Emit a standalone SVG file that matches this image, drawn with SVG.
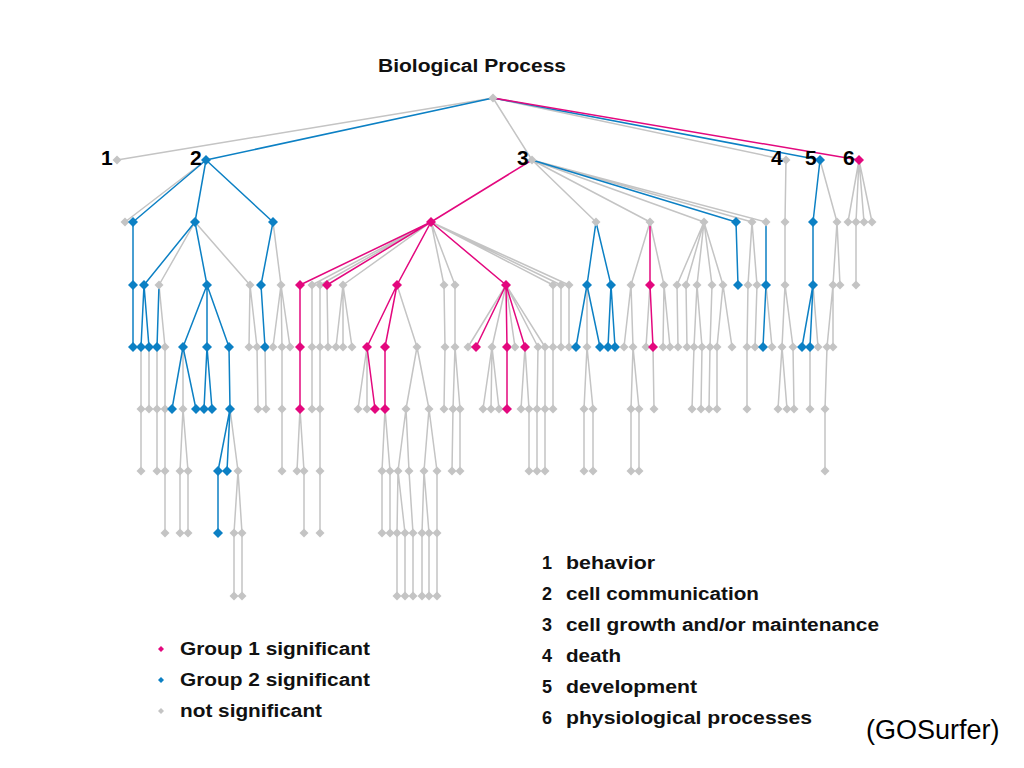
<svg xmlns="http://www.w3.org/2000/svg" xmlns:xlink="http://www.w3.org/1999/xlink" width="1024" height="768" viewBox="0 0 1024 768">
<style>
.t{font-family:"Liberation Sans","DejaVu Sans",Arial,sans-serif;font-weight:bold;font-size:18px;fill:#111}
.num{font-family:"Liberation Sans","DejaVu Sans",Arial,sans-serif;font-weight:bold;font-size:21px;fill:#000}
.src{font-family:"Liberation Sans",Arial,sans-serif;font-size:27px;fill:#000}
.eg{fill:none;stroke:#c4c4c4;stroke-width:1.5}
.eb{fill:none;stroke:#0c80c4;stroke-width:1.5}
.ep{fill:none;stroke:#e3087e;stroke-width:1.5}
</style>
<defs>
<path id="g" d="M0-4.5L4.5 0L0 4.5L-4.5 0Z" fill="#c4c4c4"/>
<path id="b" d="M0-5L5 0L0 5L-5 0Z" fill="#0c80c4"/>
<path id="p" d="M0-5L5 0L0 5L-5 0Z" fill="#e3087e"/>
<path id="sg" d="M0-3L3 0L0 3L-3 0Z" fill="#c4c4c4"/>
<path id="sb" d="M0-3L3 0L0 3L-3 0Z" fill="#0c80c4"/>
<path id="sp" d="M0-3L3 0L0 3L-3 0Z" fill="#e3087e"/>
</defs>
<rect width="1024" height="768" fill="#fff"/>
<text class="t" x="378" y="72" textLength="188" lengthAdjust="spacingAndGlyphs">Biological Process</text>
<g id="connectors">
<path class="eg" d="M493 98L117 160M493 98L532 160M493 98L786 160
M206 160L125 222M532 160L596 222M532 160L650 222M532 160L704 222M532 160L752 222M532 160L766 222M786 160L785 222M820 160L837 222M859 160L848 222M859 160L856 222M859 160L864 222M859 160L872 222
M195 222L159 285M195 222L250 285M273 222L281 285M431 222L312 285M431 222L320 285M431 222L343 285M431 222L444 285M431 222L455 285M431 222L553 285M431 222L561 285M431 222L569 285M650 222L631 285M650 222L664 285M704 222L677 285M704 222L686 285M704 222L697 285M704 222L712 285M704 222L723 285M752 222L748 285M752 222L757 285M785 222L785 285M837 222L833 285M837 222L840 285M856 222L856 285
M159 285L165 347M250 285L249 347M250 285L257 347M281 285L273 347M281 285L282 347M281 285L290 347M312 285L312 347M320 285L320 347M327 285L328 347M343 285L336 347M343 285L343 347M343 285L352 347M397 285L417 347M444 285L445 347M455 285L455 347M506 285L468 347M506 285L492 347M506 285L515 347M506 285L538 347M506 285L545 347M553 285L553 347M561 285L561 347M569 285L569 347M587 285L587 347M631 285L624 347M631 285L633 347M650 285L646 347M664 285L663 347M664 285L670 347M677 285L678 347M686 285L687 347M697 285L694 347M697 285L702 347M712 285L710 347M723 285L717 347M723 285L732 347M748 285L747 347M757 285L755 347M766 285L772 347M785 285L782 347M785 285L793 347M813 285L818 347M833 285L827 347M833 285L833 347
M141 347L141 409M149 347L149 409M157 347L157 409M165 347L165 409M183 347L183 409M257 347L258 409M265 347L266 409M282 347L282 409M312 347L312 409M320 347L320 409M367 347L358 409M367 347L367 409M417 347L406 409M417 347L429 409M445 347L444 409M455 347L453 409M455 347L460 409M492 347L483 409M492 347L491 409M492 347L499 409M525 347L521 409M525 347L529 409M538 347L537 409M545 347L545 409M553 347L553 409M587 347L584 409M587 347L593 409M633 347L631 409M633 347L639 409M653 347L654 409M694 347L692 409M702 347L701 409M710 347L709 409M717 347L717 409M747 347L747 409M782 347L778 409M782 347L787 409M793 347L794 409M810 347L810 409M827 347L825 409
M141 409L141 471M157 409L157 471M165 409L165 471M183 409L180 471M183 409L188 471M230 409L238 471M282 409L282 471M300 409L297 471M300 409L304 471M320 409L320 471M385 409L382 471M385 409L390 471M406 409L398 471M406 409L409 471M429 409L424 471M429 409L437 471M453 409L452 471M460 409L460 471M529 409L529 471M537 409L537 471M545 409L545 471M584 409L584 471M593 409L593 471M631 409L631 471M639 409L639 471M825 409L825 471
M165 471L165 533M180 471L180 533M188 471L188 533M238 471L234 533M238 471L242 533M304 471L304 533M320 471L320 533M382 471L382 533M390 471L390 533M398 471L397 533M398 471L405 533M409 471L413 533M424 471L422 533M424 471L429 533M437 471L437 533
M234 533L234 596M242 533L242 596M397 533L397 596M405 533L405 596M413 533L413 596M422 533L422 596M429 533L429 596M437 533L437 596"/>
<path class="eb" d="M493 98L206 160M493 98L820 160M206 160L133 222M206 160L195 222M206 160L273 222M532 160L736 222M820 160L813 222
M133 222L133 285M195 222L144 285M195 222L207 285M273 222L261 285M596 222L587 285M596 222L611 285M736 222L738 285M766 222L766 285M813 222L813 285
M133 285L133 347M144 285L141 347M144 285L149 347M159 285L157 347M207 285L183 347M207 285L207 347M207 285L229 347M261 285L265 347M587 285L576 347M587 285L600 347M611 285L608 347M611 285L615 347M766 285L763 347M813 285L802 347M813 285L810 347
M183 347L172 409M183 347L196 409M207 347L204 409M207 347L212 409M229 347L230 409
M230 409L218 471M230 409L227 471M218 471L218 533"/>
<path class="ep" d="M493 98L859 160M532 160L431 222
M431 222L300 285M431 222L327 285M431 222L397 285M431 222L506 285M650 222L650 285
M300 285L300 347M397 285L367 347M397 285L385 347M506 285L476 347M506 285L507 347M506 285L525 347M650 285L653 347
M300 347L300 409M367 347L375 409M385 347L385 409M507 347L507 409"/>
</g>
<g id="nodes">
<g id="root"><use href="#g" x="493" y="98"/></g>
<g id="n1"><use href="#g" x="117" y="160"/></g>
<g id="n2"><use href="#b" x="206" y="160"/></g>
<g id="n3"><use href="#g" x="532" y="160"/></g>
<g id="n4"><use href="#g" x="786" y="160"/></g>
<g id="n5"><use href="#b" x="820" y="160"/></g>
<g id="n6"><use href="#p" x="859" y="160"/></g>
<g id="a125"><use href="#g" x="125" y="222"/></g>
<g id="a133"><use href="#b" x="133" y="222"/></g>
<g id="a195"><use href="#b" x="195" y="222"/></g>
<g id="a273"><use href="#b" x="273" y="222"/></g>
<g id="a431"><use href="#p" x="431" y="222"/></g>
<g id="a596"><use href="#g" x="596" y="222"/></g>
<g id="a650"><use href="#g" x="650" y="222"/></g>
<g id="a704"><use href="#g" x="704" y="222"/></g>
<g id="a736"><use href="#b" x="736" y="222"/></g>
<g id="a752"><use href="#g" x="752" y="222"/></g>
<g id="a766"><use href="#g" x="766" y="222"/></g>
<g id="a785"><use href="#g" x="785" y="222"/></g>
<g id="a813"><use href="#b" x="813" y="222"/></g>
<g id="a837"><use href="#g" x="837" y="222"/></g>
<g id="a848"><use href="#g" x="848" y="222"/></g>
<g id="a856"><use href="#g" x="856" y="222"/></g>
<g id="a864"><use href="#g" x="864" y="222"/></g>
<g id="a872"><use href="#g" x="872" y="222"/></g>
<g id="b133"><use href="#b" x="133" y="285"/></g>
<g id="b144"><use href="#b" x="144" y="285"/></g>
<g id="b159"><use href="#g" x="159" y="285"/></g>
<g id="b207"><use href="#b" x="207" y="285"/></g>
<g id="b250"><use href="#g" x="250" y="285"/></g>
<g id="b261"><use href="#b" x="261" y="285"/></g>
<g id="b281"><use href="#g" x="281" y="285"/></g>
<g id="b300"><use href="#p" x="300" y="285"/></g>
<g id="b312"><use href="#g" x="312" y="285"/></g>
<g id="b320"><use href="#g" x="320" y="285"/></g>
<g id="b327"><use href="#p" x="327" y="285"/></g>
<g id="b343"><use href="#g" x="343" y="285"/></g>
<g id="b397"><use href="#p" x="397" y="285"/></g>
<g id="b444"><use href="#g" x="444" y="285"/></g>
<g id="b455"><use href="#g" x="455" y="285"/></g>
<g id="b506"><use href="#p" x="506" y="285"/></g>
<g id="b553"><use href="#g" x="553" y="285"/></g>
<g id="b561"><use href="#g" x="561" y="285"/></g>
<g id="b569"><use href="#g" x="569" y="285"/></g>
<g id="b587"><use href="#b" x="587" y="285"/></g>
<g id="b611"><use href="#b" x="611" y="285"/></g>
<g id="b631"><use href="#g" x="631" y="285"/></g>
<g id="b650"><use href="#p" x="650" y="285"/></g>
<g id="b664"><use href="#g" x="664" y="285"/></g>
<g id="b677"><use href="#g" x="677" y="285"/></g>
<g id="b686"><use href="#g" x="686" y="285"/></g>
<g id="b697"><use href="#g" x="697" y="285"/></g>
<g id="b712"><use href="#g" x="712" y="285"/></g>
<g id="b723"><use href="#g" x="723" y="285"/></g>
<g id="b738"><use href="#b" x="738" y="285"/></g>
<g id="b748"><use href="#g" x="748" y="285"/></g>
<g id="b757"><use href="#g" x="757" y="285"/></g>
<g id="b766"><use href="#b" x="766" y="285"/></g>
<g id="b785"><use href="#g" x="785" y="285"/></g>
<g id="b813"><use href="#b" x="813" y="285"/></g>
<g id="b833"><use href="#g" x="833" y="285"/></g>
<g id="b840"><use href="#g" x="840" y="285"/></g>
<g id="b856"><use href="#g" x="856" y="285"/></g>
<g id="c133"><use href="#b" x="133" y="347"/></g>
<g id="c141"><use href="#b" x="141" y="347"/></g>
<g id="c149"><use href="#b" x="149" y="347"/></g>
<g id="c157"><use href="#b" x="157" y="347"/></g>
<g id="c165"><use href="#g" x="165" y="347"/></g>
<g id="c183"><use href="#b" x="183" y="347"/></g>
<g id="c207"><use href="#b" x="207" y="347"/></g>
<g id="c229"><use href="#b" x="229" y="347"/></g>
<g id="c249"><use href="#g" x="249" y="347"/></g>
<g id="c257"><use href="#g" x="257" y="347"/></g>
<g id="c265"><use href="#b" x="265" y="347"/></g>
<g id="c273"><use href="#g" x="273" y="347"/></g>
<g id="c282"><use href="#g" x="282" y="347"/></g>
<g id="c290"><use href="#g" x="290" y="347"/></g>
<g id="c300"><use href="#p" x="300" y="347"/></g>
<g id="c312"><use href="#g" x="312" y="347"/></g>
<g id="c320"><use href="#g" x="320" y="347"/></g>
<g id="c328"><use href="#g" x="328" y="347"/></g>
<g id="c336"><use href="#g" x="336" y="347"/></g>
<g id="c343"><use href="#g" x="343" y="347"/></g>
<g id="c352"><use href="#g" x="352" y="347"/></g>
<g id="c367"><use href="#p" x="367" y="347"/></g>
<g id="c385"><use href="#p" x="385" y="347"/></g>
<g id="c417"><use href="#g" x="417" y="347"/></g>
<g id="c445"><use href="#g" x="445" y="347"/></g>
<g id="c455"><use href="#g" x="455" y="347"/></g>
<g id="c468"><use href="#g" x="468" y="347"/></g>
<g id="c476"><use href="#p" x="476" y="347"/></g>
<g id="c492"><use href="#g" x="492" y="347"/></g>
<g id="c507"><use href="#p" x="507" y="347"/></g>
<g id="c515"><use href="#g" x="515" y="347"/></g>
<g id="c525"><use href="#p" x="525" y="347"/></g>
<g id="c538"><use href="#g" x="538" y="347"/></g>
<g id="c545"><use href="#g" x="545" y="347"/></g>
<g id="c553"><use href="#g" x="553" y="347"/></g>
<g id="c561"><use href="#g" x="561" y="347"/></g>
<g id="c569"><use href="#g" x="569" y="347"/></g>
<g id="c576"><use href="#b" x="576" y="347"/></g>
<g id="c587"><use href="#g" x="587" y="347"/></g>
<g id="c600"><use href="#b" x="600" y="347"/></g>
<g id="c608"><use href="#b" x="608" y="347"/></g>
<g id="c615"><use href="#b" x="615" y="347"/></g>
<g id="c624"><use href="#g" x="624" y="347"/></g>
<g id="c633"><use href="#g" x="633" y="347"/></g>
<g id="c646"><use href="#g" x="646" y="347"/></g>
<g id="c653"><use href="#p" x="653" y="347"/></g>
<g id="c663"><use href="#g" x="663" y="347"/></g>
<g id="c670"><use href="#g" x="670" y="347"/></g>
<g id="c678"><use href="#g" x="678" y="347"/></g>
<g id="c687"><use href="#g" x="687" y="347"/></g>
<g id="c694"><use href="#g" x="694" y="347"/></g>
<g id="c702"><use href="#g" x="702" y="347"/></g>
<g id="c710"><use href="#g" x="710" y="347"/></g>
<g id="c717"><use href="#g" x="717" y="347"/></g>
<g id="c732"><use href="#g" x="732" y="347"/></g>
<g id="c747"><use href="#g" x="747" y="347"/></g>
<g id="c755"><use href="#g" x="755" y="347"/></g>
<g id="c763"><use href="#b" x="763" y="347"/></g>
<g id="c772"><use href="#g" x="772" y="347"/></g>
<g id="c782"><use href="#g" x="782" y="347"/></g>
<g id="c793"><use href="#g" x="793" y="347"/></g>
<g id="c802"><use href="#b" x="802" y="347"/></g>
<g id="c810"><use href="#b" x="810" y="347"/></g>
<g id="c818"><use href="#g" x="818" y="347"/></g>
<g id="c827"><use href="#g" x="827" y="347"/></g>
<g id="c833"><use href="#g" x="833" y="347"/></g>
<g id="d141"><use href="#g" x="141" y="409"/></g>
<g id="d149"><use href="#g" x="149" y="409"/></g>
<g id="d157"><use href="#g" x="157" y="409"/></g>
<g id="d165"><use href="#g" x="165" y="409"/></g>
<g id="d172"><use href="#b" x="172" y="409"/></g>
<g id="d183"><use href="#g" x="183" y="409"/></g>
<g id="d196"><use href="#b" x="196" y="409"/></g>
<g id="d204"><use href="#b" x="204" y="409"/></g>
<g id="d212"><use href="#b" x="212" y="409"/></g>
<g id="d230"><use href="#b" x="230" y="409"/></g>
<g id="d258"><use href="#g" x="258" y="409"/></g>
<g id="d266"><use href="#g" x="266" y="409"/></g>
<g id="d282"><use href="#g" x="282" y="409"/></g>
<g id="d300"><use href="#p" x="300" y="409"/></g>
<g id="d312"><use href="#g" x="312" y="409"/></g>
<g id="d320"><use href="#g" x="320" y="409"/></g>
<g id="d358"><use href="#g" x="358" y="409"/></g>
<g id="d367"><use href="#g" x="367" y="409"/></g>
<g id="d375"><use href="#p" x="375" y="409"/></g>
<g id="d385"><use href="#p" x="385" y="409"/></g>
<g id="d406"><use href="#g" x="406" y="409"/></g>
<g id="d429"><use href="#g" x="429" y="409"/></g>
<g id="d444"><use href="#g" x="444" y="409"/></g>
<g id="d453"><use href="#g" x="453" y="409"/></g>
<g id="d460"><use href="#g" x="460" y="409"/></g>
<g id="d483"><use href="#g" x="483" y="409"/></g>
<g id="d491"><use href="#g" x="491" y="409"/></g>
<g id="d499"><use href="#g" x="499" y="409"/></g>
<g id="d507"><use href="#p" x="507" y="409"/></g>
<g id="d521"><use href="#g" x="521" y="409"/></g>
<g id="d529"><use href="#g" x="529" y="409"/></g>
<g id="d537"><use href="#g" x="537" y="409"/></g>
<g id="d545"><use href="#g" x="545" y="409"/></g>
<g id="d553"><use href="#g" x="553" y="409"/></g>
<g id="d584"><use href="#g" x="584" y="409"/></g>
<g id="d593"><use href="#g" x="593" y="409"/></g>
<g id="d631"><use href="#g" x="631" y="409"/></g>
<g id="d639"><use href="#g" x="639" y="409"/></g>
<g id="d654"><use href="#g" x="654" y="409"/></g>
<g id="d692"><use href="#g" x="692" y="409"/></g>
<g id="d701"><use href="#g" x="701" y="409"/></g>
<g id="d709"><use href="#g" x="709" y="409"/></g>
<g id="d717"><use href="#g" x="717" y="409"/></g>
<g id="d747"><use href="#g" x="747" y="409"/></g>
<g id="d778"><use href="#g" x="778" y="409"/></g>
<g id="d787"><use href="#g" x="787" y="409"/></g>
<g id="d794"><use href="#g" x="794" y="409"/></g>
<g id="d810"><use href="#g" x="810" y="409"/></g>
<g id="d825"><use href="#g" x="825" y="409"/></g>
<g id="e141"><use href="#g" x="141" y="471"/></g>
<g id="e157"><use href="#g" x="157" y="471"/></g>
<g id="e165"><use href="#g" x="165" y="471"/></g>
<g id="e180"><use href="#g" x="180" y="471"/></g>
<g id="e188"><use href="#g" x="188" y="471"/></g>
<g id="e218"><use href="#b" x="218" y="471"/></g>
<g id="e227"><use href="#b" x="227" y="471"/></g>
<g id="e238"><use href="#g" x="238" y="471"/></g>
<g id="e282"><use href="#g" x="282" y="471"/></g>
<g id="e297"><use href="#g" x="297" y="471"/></g>
<g id="e304"><use href="#g" x="304" y="471"/></g>
<g id="e320"><use href="#g" x="320" y="471"/></g>
<g id="e382"><use href="#g" x="382" y="471"/></g>
<g id="e390"><use href="#g" x="390" y="471"/></g>
<g id="e398"><use href="#g" x="398" y="471"/></g>
<g id="e409"><use href="#g" x="409" y="471"/></g>
<g id="e424"><use href="#g" x="424" y="471"/></g>
<g id="e437"><use href="#g" x="437" y="471"/></g>
<g id="e452"><use href="#g" x="452" y="471"/></g>
<g id="e460"><use href="#g" x="460" y="471"/></g>
<g id="e529"><use href="#g" x="529" y="471"/></g>
<g id="e537"><use href="#g" x="537" y="471"/></g>
<g id="e545"><use href="#g" x="545" y="471"/></g>
<g id="e584"><use href="#g" x="584" y="471"/></g>
<g id="e593"><use href="#g" x="593" y="471"/></g>
<g id="e631"><use href="#g" x="631" y="471"/></g>
<g id="e639"><use href="#g" x="639" y="471"/></g>
<g id="e825"><use href="#g" x="825" y="471"/></g>
<g id="f165"><use href="#g" x="165" y="533"/></g>
<g id="f180"><use href="#g" x="180" y="533"/></g>
<g id="f188"><use href="#g" x="188" y="533"/></g>
<g id="f218"><use href="#b" x="218" y="533"/></g>
<g id="f234"><use href="#g" x="234" y="533"/></g>
<g id="f242"><use href="#g" x="242" y="533"/></g>
<g id="f304"><use href="#g" x="304" y="533"/></g>
<g id="f320"><use href="#g" x="320" y="533"/></g>
<g id="f382"><use href="#g" x="382" y="533"/></g>
<g id="f390"><use href="#g" x="390" y="533"/></g>
<g id="f397"><use href="#g" x="397" y="533"/></g>
<g id="f405"><use href="#g" x="405" y="533"/></g>
<g id="f413"><use href="#g" x="413" y="533"/></g>
<g id="f422"><use href="#g" x="422" y="533"/></g>
<g id="f429"><use href="#g" x="429" y="533"/></g>
<g id="f437"><use href="#g" x="437" y="533"/></g>
<g id="h234"><use href="#g" x="234" y="596"/></g>
<g id="h242"><use href="#g" x="242" y="596"/></g>
<g id="h397"><use href="#g" x="397" y="596"/></g>
<g id="h405"><use href="#g" x="405" y="596"/></g>
<g id="h413"><use href="#g" x="413" y="596"/></g>
<g id="h422"><use href="#g" x="422" y="596"/></g>
<g id="h429"><use href="#g" x="429" y="596"/></g>
<g id="h437"><use href="#g" x="437" y="596"/></g>
</g>
<g id="numbers">
<text class="num" x="101" y="165">1</text>
<text class="num" x="190" y="165">2</text>
<text class="num" x="517" y="165">3</text>
<text class="num" x="771" y="165">4</text>
<text class="num" x="805" y="165">5</text>
<text class="num" x="843" y="165">6</text>
</g>
<g id="legend-groups">
<use href="#sp" x="161" y="649"/>
<use href="#sb" x="161" y="680"/>
<use href="#sg" x="161" y="711"/>
<text class="t" x="180" y="655" textLength="190" lengthAdjust="spacingAndGlyphs">Group 1 significant</text>
<text class="t" x="180" y="686" textLength="190" lengthAdjust="spacingAndGlyphs">Group 2 significant</text>
<text class="t" x="180" y="717" textLength="142" lengthAdjust="spacingAndGlyphs">not significant</text>
</g>
<g id="legend-terms">
<text class="t" x="542" y="569">1</text><text class="t" x="566" y="569" textLength="89" lengthAdjust="spacingAndGlyphs">behavior</text>
<text class="t" x="542" y="600">2</text><text class="t" x="566" y="600" textLength="193" lengthAdjust="spacingAndGlyphs">cell communication</text>
<text class="t" x="542" y="631">3</text><text class="t" x="566" y="631" textLength="313" lengthAdjust="spacingAndGlyphs">cell growth and/or maintenance</text>
<text class="t" x="542" y="662">4</text><text class="t" x="566" y="662" textLength="55" lengthAdjust="spacingAndGlyphs">death</text>
<text class="t" x="542" y="693">5</text><text class="t" x="566" y="693" textLength="131" lengthAdjust="spacingAndGlyphs">development</text>
<text class="t" x="542" y="724">6</text><text class="t" x="566" y="724" textLength="246" lengthAdjust="spacingAndGlyphs">physiological processes</text>
</g>
<text class="src" x="866" y="739">(GOSurfer)</text>
</svg>
